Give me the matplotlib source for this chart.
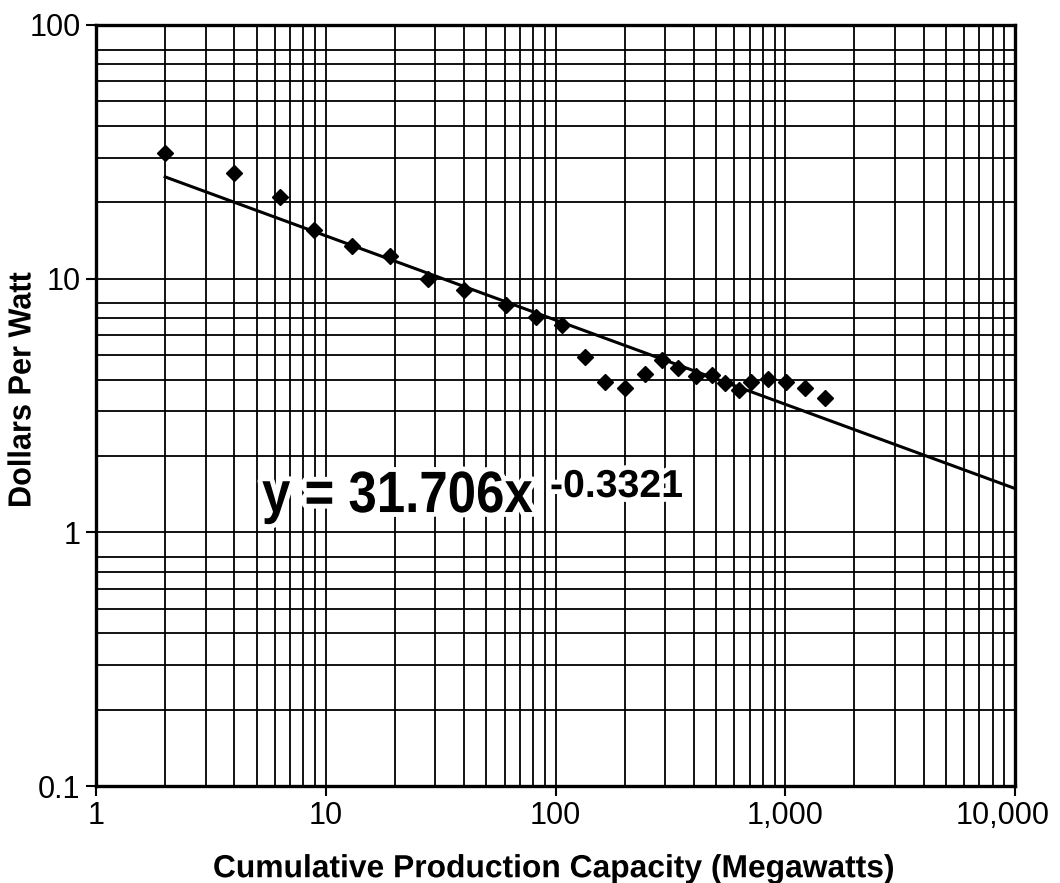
import matplotlib
matplotlib.use("Agg")
import matplotlib.pyplot as plt
import matplotlib.ticker as ticker
import matplotlib.patheffects as pe
from matplotlib.transforms import Affine2D, ScaledTranslation
import numpy as np

# values
capacity_mw = [2, 4, 6.3, 8.9, 13, 19, 28, 40, 61, 82, 107, 135, 165, 201,
               245, 290, 341, 408, 478, 546, 632, 713, 841, 1007, 1215, 1486]
dollars_per_watt = [31.4, 26.2, 20.9, 15.5, 13.4, 12.3, 10.0, 9.03, 7.88,
                    7.04, 6.57, 4.90, 3.91, 3.71, 4.19, 4.76, 4.45, 4.15,
                    4.18, 3.87, 3.65, 3.91, 4.03, 3.93, 3.70, 3.38]

# power-law trend shown on the chart
fit_coef = 31.706
fit_exp = -0.3321
fit_x = [2, 10000]

x_ticks = [1, 10, 100, 1000, 10000]
x_tick_labels = ["1", "10", "100", "1,000", "10,000"]
y_ticks = [0.1, 1, 10, 100]
y_tick_labels = ["0.1", "1", "10", "100"]

label_font = ["Liberation Sans", "DejaVu Sans"]
tick_font = ["Liberation Sans", "DejaVu Sans"]


class Stretch(pe.AbstractPathEffect):
    """Stretch glyphs vertically, so a smaller font looks like a condensed one."""

    def __init__(self, effects, sy=1.0, anchor="baseline"):
        super().__init__()
        self.sy = sy
        self.effects = effects
        self.anchor = anchor

    def draw_path(self, renderer, gc, tpath, affine, rgbFace=None):
        cy = 0
        if self.anchor == "center":
            ext = tpath.get_extents()
            cy = (ext.y0 + ext.y1) / 2
        tall = Affine2D().translate(0, -cy).scale(1, self.sy).translate(0, cy)
        for eff in self.effects:
            eff.draw_path(renderer, gc, tpath, tall + affine, rgbFace)


fig = plt.figure(figsize=(10.6, 8.83), dpi=100)
ax = fig.add_axes([96 / 1060, 97 / 883, 919 / 1060, 761 / 883])

ax.set_xscale("log")
ax.set_yscale("log")
ax.set_xlim(1, 10000)
ax.set_ylim(0.1, 100)

# trend line and data points
fit_x = np.array(fit_x, dtype=float)
ax.plot(fit_x, fit_coef * fit_x ** fit_exp, color="black", lw=2.2, zorder=3)
ax.plot(capacity_mw, dollars_per_watt, linestyle="none", marker="D",
        markersize=8.5, color="black", zorder=4)

# axes, ticks and grid
ax.xaxis.set_major_locator(ticker.FixedLocator(x_ticks))
ax.xaxis.set_major_formatter(ticker.FixedFormatter(x_tick_labels))
ax.yaxis.set_major_locator(ticker.FixedLocator(y_ticks))
ax.yaxis.set_major_formatter(ticker.FixedFormatter(y_tick_labels))
ax.xaxis.set_minor_locator(ticker.LogLocator(base=10, subs=range(2, 10), numticks=20))
ax.yaxis.set_minor_locator(ticker.LogLocator(base=10, subs=range(2, 9), numticks=20))
ax.xaxis.set_minor_formatter(ticker.NullFormatter())
ax.yaxis.set_minor_formatter(ticker.NullFormatter())

ax.set_axisbelow(True)
ax.grid(which="both", color="black", linewidth=1.3)
ax.tick_params(which="minor", length=0)
ax.tick_params(which="major", length=7, width=1.5, labelsize=22, pad=4)
for lab in ax.get_xticklabels() + ax.get_yticklabels():
    lab.set_family(tick_font)
for side in ax.spines.values():
    side.set_linewidth(2.4)

stretch_x = Stretch([pe.Normal()], anchor="center")
stretch_y = Stretch([pe.Normal()], anchor="center")
xl = ax.set_xlabel("Cumulative Production Capacity (Megawatts)",
                   family=label_font, fontweight="bold", fontsize=23,
                   va="center", path_effects=[stretch_x])
yl = ax.set_ylabel("Dollars Per Watt", family=label_font, fontweight="bold",
                   fontsize=23, va="center", path_effects=[stretch_y])
ax.xaxis.set_label_coords(0.498, -0.1093)
ax.yaxis.set_label_coords(-0.0805, 0.52)

# equation annotation with white halo
halo = [pe.Stroke(linewidth=7, foreground="white"), pe.Normal()]
stretch_eq = Stretch(halo)
stretch_sup = Stretch(halo)
eq = ax.text(0.1806, 0.360, "y = 31.706x", transform=ax.transAxes,
             family=label_font, fontweight="bold", fontsize=42,
             va="baseline", ha="left", path_effects=[stretch_eq], zorder=5)
sup = ax.text(0.494, 0.3798, "-0.3321", transform=ax.transAxes,
              family=label_font, fontweight="bold", fontsize=28,
              va="baseline", ha="left", path_effects=[stretch_sup], zorder=5)

# shrink each text to the width seen in the reference (pixels) and
# stretch it back up to the reference height
fig.canvas.draw()
r = fig.canvas.get_renderer()
for txt, eff, target, along in [(xl, stretch_x, 682, "w"),
                                (yl, stretch_y, 236, "h"),
                                (eq, stretch_eq, 271, "w"),
                                (sup, stretch_sup, 133, "w")]:
    bb = txt.get_window_extent(r)
    size = bb.width if along == "w" else bb.height
    ratio = target / size
    txt.set_fontsize(txt.get_fontsize() * ratio)
    eff.sy = 1 / ratio

# last x label sits a little inside the figure edge
last = ax.xaxis.get_major_ticks()[-1].label1
last.set_transform(last.get_transform() + ScaledTranslation(-12 / 100, 0, fig.dpi_scale_trans))

plt.savefig("out.png", dpi=100)
